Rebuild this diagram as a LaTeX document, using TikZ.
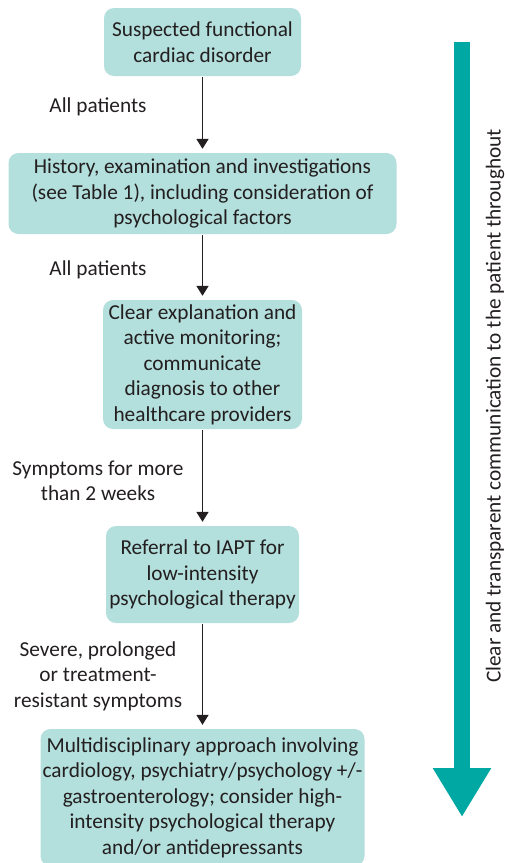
\documentclass[tikz,border=0pt]{standalone}
\usepackage{fontspec}
\setmainfont{Carlito}
\usepackage[HTML]{xcolor}
\usetikzlibrary{positioning, arrows.meta}
\definecolor{boxfill}{HTML}{B3DFDC}
\definecolor{flowteal}{HTML}{00A8A4}
\definecolor{ink}{HTML}{231F20}

\begin{document}
\begin{tikzpicture}[x=1pt, y=-1pt, font=\fontsize{21.3}{25.5}\selectfont, text=ink,
  box/.style={rectangle, rounded corners=10pt, fill=boxfill, align=center, inner sep=0pt},
  lbl/.style={align=center, inner sep=0pt},
  flow/.style={-{Triangle[width=12pt,length=10pt]}, line width=1.8pt, draw=ink, shorten <=1pt, shorten >=4pt},
  bigarrow/.style={-{Triangle[width=55pt,length=49pt]}, line width=16pt, draw=flowteal}]
\useasboundingbox (0,0) rectangle (505,863);
% boxes
\node[box, minimum width=197pt, minimum height=68pt] (susp) at (202.5,42) {Suspected functional\\cardiac disorder};
\node[box, minimum width=388pt, minimum height=81pt] (hist) at (202.5,193.5) {History, examination and investigations\\(see Table 1), including consideration of\\psychological factors};
\node[box, minimum width=199pt, minimum height=129pt] (expl) at (202.5,364.5) {Clear explanation and\\active monitoring;\\communicate\\diagnosis to other\\healthcare providers};
\node[box, minimum width=193pt, minimum height=97pt] (iapt) at (202.5,574.5) {Referral to IAPT for\\low-intensity\\psychological therapy};
\node[box, minimum width=324pt, minimum height=137pt] (mdt) at (202.5,797.5) {Multidisciplinary approach involving\\cardiology, psychiatry/psychology +/-\\gastroenterology; consider high-\\intensity psychological therapy\\and/or antidepressants};
% arrows
\draw[flow] (susp.south) -- (hist.north);
\draw[flow] (hist.south) -- (expl.north);
\draw[flow] (expl.south) -- (iapt.north);
\draw[flow] (iapt.south) -- (mdt.north);
% labels
\node[lbl] (all1) at (98,107) {All patients};
\node[lbl] (all2) at (98,270) {All patients};
\node[lbl] (weeks) at (98,481) {Symptoms for more\\than 2 weeks};
\node[lbl] (severe) at (98,676) {Severe, prolonged\\or treatment-\\resistant symptoms};
% side arrow
\coordinate (top) at (462,42);
\coordinate (tip) at (462,817);
\draw[bigarrow] (top) -- (tip);
\node[lbl, rotate=90] (comm) at (495,406) {Clear and transparent communication to the patient throughout};
\end{tikzpicture}
\end{document}
